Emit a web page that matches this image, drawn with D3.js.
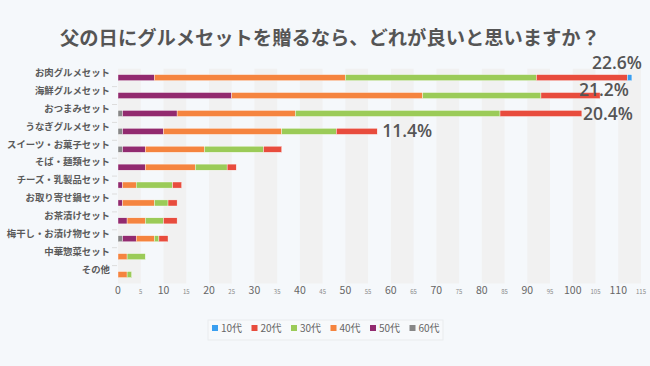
<!DOCTYPE html>
<html><head><meta charset="utf-8">
<script src="https://cdn.jsdelivr.net/npm/d3@7/dist/d3.min.js"></script>
<style>
html,body{margin:0;padding:0;background:#f5f8fb;}
svg{display:block;font-family:"Noto Sans CJK JP","Noto Sans",sans-serif;}
</style></head><body>
<svg id="c" width="650" height="366"></svg>
<script>
const title = "父の日にグルメセットを贈るなら、どれが良いと思いますか？";
const categories = ["お肉グルメセット","海鮮グルメセット","おつまみセット","うなぎグルメセット","スイーツ・お菓子セット","そば・麺類セット","チーズ・乳製品セット","お取り寄せ鍋セット","お茶漬けセット","梅干し・お漬け物セット","中華惣菜セット","その他"];
const seriesNames = ["60代","50代","40代","30代","20代","10代"];
const s60 = [0,0,1,1,1,0,0,0,0,1,0,0];
const s50 = [8,25,12,9,5,6,1,1,2,3,0,0];
const s40 = [42,42,26,26,13,11,3,7,4,4,2,2];
const s30 = [42,26,45,12,13,7,8,3,4,1,4,1];
const s20 = [20,13,18,9,4,2,2,2,3,2,0,0];
const s10 = [1,0,0,0,0,0,0,0,0,0,0,0];
const pctLabels = ["22.6%","21.2%","20.4%","11.4%","","","","","","","",""];
const xTicks = [0,5,10,15,20,25,30,35,40,45,50,55,60,65,70,75,80,85,90,95,100,105,110,115];
const legendOrder = ["10代","20代","30代","40代","50代","60代"];

const colors = {"10代":"#3a9ff0","20代":"#e84c3d","30代":"#9bcb58","40代":"#f5843f","50代":"#922a6f","60代":"#878787"};
const seriesValues = {"60代":s60,"50代":s50,"40代":s40,"30代":s30,"20代":s20,"10代":s10};
// label nudges (styling only)
const labelDx = [-40,-21,1,5];
const labelDy = [-15,-5.5,0,0];

const svg = d3.select("#c");
const M = {left:118, right:641, top:68.7, bottom:283.5};

const x = d3.scaleLinear().domain([0,115]).range([M.left, M.right]);
const y = d3.scaleBand().domain(categories).range([M.top, M.bottom]).paddingInner(0.66).paddingOuter(0.33);
const step = y.step();

// alternate bands
const g = svg.append("g");
for (let i = 0; i < xTicks.length-1; i += 2) {
  g.append("rect").attr("x", x(xTicks[i])).attr("y", M.top)
   .attr("width", x(xTicks[i+1]) - x(xTicks[i])).attr("height", M.bottom - M.top)
   .attr("fill", "#f1f1f1");
}

// title
svg.append("text").attr("x", 330).attr("y", 45).attr("text-anchor","middle")
  .attr("font-size", 19.3).attr("font-weight","bold").attr("fill","#555").text(title);

// y-axis boundary ticks
categories.forEach((c,i)=>{
  if (i===0) return;
  const yy = y(c) - (step - y.bandwidth())/2;
  svg.append("line").attr("x1", M.left-6).attr("x2", M.left-1).attr("y1", yy).attr("y2", yy)
    .attr("stroke","#ddd").attr("stroke-width",1);
});

// category labels
svg.append("g").selectAll("text").data(categories).join("text")
  .attr("x", 110).attr("y", d => y(d) + y.bandwidth()/2 - 5)
  .attr("dy","0.35em").attr("text-anchor","end")
  .attr("font-size", 9.4).attr("font-weight","bold").attr("fill","#5a5a5a").text(d=>d);

// stacked bars
const table = categories.map((c,i)=>{
  const o = {cat:c};
  seriesNames.forEach(s => o[s] = seriesValues[s][i]);
  return o;
});
const stack = d3.stack().keys(seriesNames)(table);
svg.append("g").selectAll("g").data(stack).join("g")
  .attr("fill", d => colors[d.key])
  .selectAll("rect").data(d => d).join("rect")
  .attr("x", d => x(d[0])).attr("y", d => y(d.data.cat))
  .attr("width", d => Math.max(0, x(d[1]) - x(d[0]))).attr("height", y.bandwidth())
  .attr("stroke", d => (d[1]-d[0])>0 ? "#fff" : "none").attr("stroke-width", 0.4);

// percentage labels
table.forEach((row,i)=>{
  if (!pctLabels[i]) return;
  const total = seriesNames.reduce((a,s)=>a+row[s],0);
  svg.append("text").attr("x", x(total) + labelDx[i])
    .attr("y", y(row.cat) + y.bandwidth()/2 + labelDy[i]).attr("dy","0.35em")
    .attr("font-size", 17.5).attr("font-weight","600").attr("fill","#555")
    .attr("font-family","'Open Sans',sans-serif")
    .text(pctLabels[i]);
});

// x tick labels
svg.append("g").selectAll("text").data(xTicks).join("text")
  .attr("x", d => x(d)).attr("y", 294).attr("text-anchor","middle")
  .attr("font-size", d => d % 10 === 0 ? 10.5 : 6).attr("fill", d => d % 10 === 0 ? "#666" : "#888")
  .text(d => d);

// legend
const lg = svg.append("g");
lg.append("rect").attr("x",208).attr("y",320).attr("width",235).attr("height",20)
  .attr("fill","#f7f9fb").attr("stroke","#e6e9ec").attr("stroke-width",0.8);
legendOrder.forEach((s,i)=>{
  const lx = 212 + i*39.5;
  lg.append("rect").attr("x",lx).attr("y",325).attr("width",6).attr("height",6).attr("fill",colors[s]);
  lg.append("text").attr("x",lx+9).attr("y",328.5).attr("dy","0.35em")
    .attr("font-size",10).attr("fill","#666").text(s);
});
</script>
</body></html>
